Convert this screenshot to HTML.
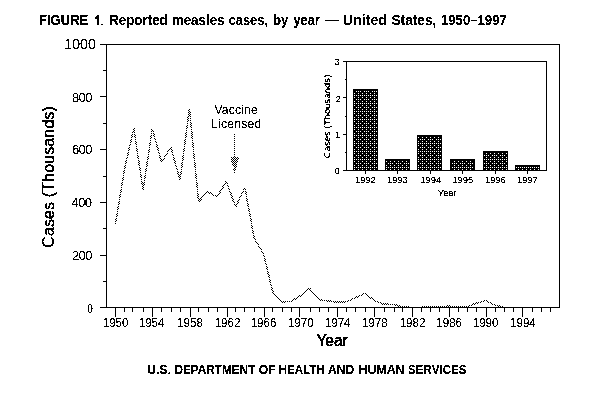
<!DOCTYPE html>
<html><head><meta charset="utf-8"><title>Figure 1</title>
<style>html,body{margin:0;padding:0;background:#fff}svg{display:block}text{font-family:"Liberation Sans",sans-serif;fill:#000;filter:url(#th)}text.sm{filter:url(#th2)}</style>
</head><body>
<svg width="605" height="415" viewBox="0 0 605 415">
<defs>
<pattern id="chk" x="0" y="0" width="2" height="2" patternUnits="userSpaceOnUse"><rect x="0" y="0" width="1" height="1" fill="#000"/><rect x="1" y="1" width="1" height="1" fill="#000"/></pattern>
<pattern id="bar" x="2" y="3" width="8" height="8" patternUnits="userSpaceOnUse"><rect width="8" height="8" fill="#000"/><rect x="2" y="0" width="1" height="1" fill="#fff"/><rect x="4" y="0" width="1" height="1" fill="#fff"/><rect x="6" y="0" width="1" height="1" fill="#fff"/><rect x="0" y="2" width="1" height="1" fill="#fff"/><rect x="4" y="2" width="1" height="1" fill="#fff"/><rect x="0" y="4" width="1" height="1" fill="#fff"/><rect x="2" y="4" width="1" height="1" fill="#fff"/><rect x="4" y="4" width="1" height="1" fill="#fff"/><rect x="6" y="4" width="1" height="1" fill="#fff"/><rect x="0" y="6" width="1" height="1" fill="#fff"/><rect x="4" y="6" width="1" height="1" fill="#fff"/></pattern>
<filter id="th" x="-5%" y="-5%" width="110%" height="110%" color-interpolation-filters="sRGB"><feComponentTransfer><feFuncA type="discrete" tableValues="0 0 1 1 1"/></feComponentTransfer></filter>
<filter id="th2" x="-5%" y="-5%" width="110%" height="110%" color-interpolation-filters="sRGB"><feComponentTransfer><feFuncA type="discrete" tableValues="0 0 0 0 0 0 0 1 1 1 1 1 1 1 1 1 1 1 1 1"/></feComponentTransfer></filter>
</defs>
<rect width="605" height="415" fill="#fff"/>
<text x="39.00" y="24.7" font-size="14" font-weight="bold" textLength="49.29" lengthAdjust="spacingAndGlyphs">FIGURE</text>
<text x="109.00" y="24.7" font-size="14" font-weight="bold" textLength="58.81" lengthAdjust="spacingAndGlyphs">Reported</text>
<text x="171.75" y="24.7" font-size="14" font-weight="bold" textLength="52.78" lengthAdjust="spacingAndGlyphs">measles</text>
<text x="228.75" y="24.7" font-size="14" font-weight="bold" textLength="39.05" lengthAdjust="spacingAndGlyphs">cases,</text>
<text x="273.00" y="24.7" font-size="14" font-weight="bold" textLength="15.31" lengthAdjust="spacingAndGlyphs">by</text>
<text x="293.50" y="24.7" font-size="14" font-weight="bold" textLength="26.25" lengthAdjust="spacingAndGlyphs">year</text>
<text x="325.00" y="24.7" font-size="14" font-weight="bold" textLength="13.76" lengthAdjust="spacingAndGlyphs">—</text>
<text x="342.75" y="24.7" font-size="14" font-weight="bold" textLength="44.33" lengthAdjust="spacingAndGlyphs">United</text>
<text x="391.50" y="24.7" font-size="14" font-weight="bold" textLength="44.79" lengthAdjust="spacingAndGlyphs">States,</text>
<text x="441.00" y="24.7" font-size="14" font-weight="bold" textLength="65.78" lengthAdjust="spacingAndGlyphs">1950–1997</text>
<path shape-rendering="crispEdges" fill="#000" d="M97 15h2v10h-2zM96 16h1v3h-1zM95 17h1v2h-1zM101 24h2v1h-2z"/>
<polyline points="115.3,224.3 124.6,168.8 133.8,128.6 143.1,190.1 152.3,128.8 161.6,162.2 170.8,147.2 180.1,180.1 189.4,108.6 198.6,201.4 207.9,192.0 217.1,196.7 226.4,181.4 235.6,206.9 244.9,187.7 254.2,238.2 263.4,253.5 272.7,291.6 281.9,302.2 291.2,301.2 300.4,295.8 309.7,288.5 319.0,299.7 328.2,300.9 337.5,302.2 346.7,301.7 356.0,297.4 365.2,293.2 374.5,300.9 383.8,304.2 393.0,304.3 402.3,306.9 411.5,307.3 420.8,307.3 430.0,307.0 439.3,307.0 448.6,306.1 457.8,306.8 467.1,306.8 476.3,303.2 485.6,300.7 494.8,305.3 504.1,307.1" fill="none" stroke="url(#chk)" stroke-width="1.5" stroke-linejoin="bevel" shape-rendering="crispEdges"/>
<g shape-rendering="crispEdges" fill="#000">
<rect x="106" y="44" width="454" height="1"/>
<rect x="106" y="44" width="1" height="264"/>
<rect x="559" y="44" width="1" height="264"/>
<rect x="106" y="307" width="454" height="1"/>
<rect x="100" y="44" width="6" height="1"/>
<rect x="103" y="70" width="3" height="1"/>
<rect x="100" y="96" width="6" height="1"/>
<rect x="103" y="123" width="3" height="1"/>
<rect x="100" y="149" width="6" height="1"/>
<rect x="103" y="176" width="3" height="1"/>
<rect x="100" y="202" width="6" height="1"/>
<rect x="103" y="228" width="3" height="1"/>
<rect x="100" y="255" width="6" height="1"/>
<rect x="103" y="281" width="3" height="1"/>
<rect x="100" y="307" width="6" height="1"/>
<rect x="115" y="308" width="1" height="9"/>
<rect x="124" y="308" width="1" height="4"/>
<rect x="132" y="308" width="1" height="4"/>
<rect x="143" y="308" width="1" height="4"/>
<rect x="152" y="308" width="1" height="9"/>
<rect x="161" y="308" width="1" height="4"/>
<rect x="171" y="308" width="1" height="4"/>
<rect x="180" y="308" width="1" height="4"/>
<rect x="190" y="308" width="1" height="9"/>
<rect x="198" y="308" width="1" height="4"/>
<rect x="208" y="308" width="1" height="4"/>
<rect x="217" y="308" width="1" height="4"/>
<rect x="227" y="308" width="1" height="9"/>
<rect x="235" y="308" width="1" height="4"/>
<rect x="244" y="308" width="1" height="4"/>
<rect x="254" y="308" width="1" height="4"/>
<rect x="264" y="308" width="1" height="9"/>
<rect x="272" y="308" width="1" height="4"/>
<rect x="282" y="308" width="1" height="4"/>
<rect x="291" y="308" width="1" height="4"/>
<rect x="299" y="308" width="1" height="9"/>
<rect x="310" y="308" width="1" height="4"/>
<rect x="319" y="308" width="1" height="4"/>
<rect x="328" y="308" width="1" height="4"/>
<rect x="337" y="308" width="1" height="9"/>
<rect x="346" y="308" width="1" height="4"/>
<rect x="355" y="308" width="1" height="4"/>
<rect x="365" y="308" width="1" height="4"/>
<rect x="374" y="308" width="1" height="9"/>
<rect x="384" y="308" width="1" height="4"/>
<rect x="394" y="308" width="1" height="4"/>
<rect x="402" y="308" width="1" height="4"/>
<rect x="412" y="308" width="1" height="9"/>
<rect x="421" y="308" width="1" height="4"/>
<rect x="430" y="308" width="1" height="4"/>
<rect x="439" y="308" width="1" height="4"/>
<rect x="449" y="308" width="1" height="9"/>
<rect x="458" y="308" width="1" height="4"/>
<rect x="467" y="308" width="1" height="4"/>
<rect x="476" y="308" width="1" height="4"/>
<rect x="486" y="308" width="1" height="9"/>
<rect x="495" y="308" width="1" height="4"/>
<rect x="504" y="308" width="1" height="4"/>
<rect x="513" y="308" width="1" height="4"/>
<rect x="522" y="308" width="1" height="9"/>
<rect x="532" y="308" width="1" height="4"/>
<rect x="541" y="308" width="1" height="4"/>
<rect x="550" y="308" width="1" height="4"/>
</g>
<text x="64.350" y="48.900" font-size="14" textLength="31.4" lengthAdjust="spacing">1000</text>
<text x="72.000" y="101.700" font-size="13" textLength="20.4" lengthAdjust="spacing">800</text>
<text x="72.000" y="153.800" font-size="13" textLength="20.4" lengthAdjust="spacing">600</text>
<text x="71.550" y="207.000" font-size="13" textLength="20.4" lengthAdjust="spacing">400</text>
<text x="72.000" y="259.800" font-size="13" textLength="20.4" lengthAdjust="spacing">200</text>
<text x="87.325" y="313.000" font-size="13" textLength="5.6" lengthAdjust="spacingAndGlyphs">0</text>
<text x="102.750" y="326.700" font-size="12" textLength="25.7" lengthAdjust="spacingAndGlyphs">1950</text>
<text x="138.725" y="326.700" font-size="12" textLength="25.7" lengthAdjust="spacingAndGlyphs">1954</text>
<text x="177.150" y="326.700" font-size="12" textLength="25.7" lengthAdjust="spacingAndGlyphs">1958</text>
<text x="214.675" y="326.700" font-size="12" textLength="25.7" lengthAdjust="spacingAndGlyphs">1962</text>
<text x="250.625" y="326.700" font-size="12" textLength="25.7" lengthAdjust="spacingAndGlyphs">1966</text>
<text x="287.900" y="326.700" font-size="12" textLength="25.7" lengthAdjust="spacingAndGlyphs">1970</text>
<text x="324.800" y="326.700" font-size="12" textLength="25.7" lengthAdjust="spacingAndGlyphs">1974</text>
<text x="361.925" y="326.700" font-size="12" textLength="25.7" lengthAdjust="spacingAndGlyphs">1978</text>
<text x="399.650" y="326.700" font-size="12" textLength="25.7" lengthAdjust="spacingAndGlyphs">1982</text>
<text x="436.350" y="326.700" font-size="12" textLength="25.7" lengthAdjust="spacingAndGlyphs">1986</text>
<text x="472.725" y="326.700" font-size="12" textLength="25.7" lengthAdjust="spacingAndGlyphs">1990</text>
<text x="510.100" y="326.700" font-size="12" textLength="25.7" lengthAdjust="spacingAndGlyphs">1994</text>
<text x="316.400" y="345.500" font-size="16" textLength="31.4" lengthAdjust="spacingAndGlyphs" stroke="#000" stroke-width="0.4">Year</text>
<text transform="translate(54,247.7) rotate(-90)" font-size="16" textLength="141.6" lengthAdjust="spacing" stroke="#000" stroke-width="0.2">Cases (Thousands)</text>
<text x="214.500" y="113.800" font-size="12" textLength="43.1" lengthAdjust="spacing">Vaccine</text>
<text x="210.925" y="127.800" font-size="12" textLength="50.3" lengthAdjust="spacing">Licensed</text>
<g shape-rendering="crispEdges">
<rect x="234" y="134" width="1" height="1" fill="#000"/>
<rect x="234" y="136" width="1" height="1" fill="#000"/>
<rect x="234" y="138" width="1" height="1" fill="#000"/>
<rect x="234" y="140" width="1" height="1" fill="#000"/>
<rect x="234" y="142" width="1" height="1" fill="#000"/>
<rect x="234" y="144" width="1" height="1" fill="#000"/>
<rect x="234" y="146" width="1" height="1" fill="#000"/>
<rect x="234" y="148" width="1" height="1" fill="#000"/>
<rect x="234" y="150" width="1" height="1" fill="#000"/>
<rect x="234" y="152" width="1" height="1" fill="#000"/>
<rect x="234" y="154" width="1" height="1" fill="#000"/>
<path fill="#000" d="M234 156h1v1h-1zM231 157h1v1h-1zM233 157h1v1h-1zM235 157h1v1h-1zM237 157h1v1h-1zM232 158h1v1h-1zM234 158h1v1h-1zM236 158h1v1h-1zM238 158h1v1h-1zM231 159h1v1h-1zM233 159h1v1h-1zM235 159h1v1h-1zM237 159h1v1h-1zM232 160h1v1h-1zM234 160h1v1h-1zM236 160h1v1h-1zM231 161h1v1h-1zM233 161h1v1h-1zM235 161h1v1h-1zM237 161h1v1h-1zM232 162h1v1h-1zM234 162h1v1h-1zM236 162h1v1h-1zM233 163h1v1h-1zM235 163h1v1h-1zM232 164h1v1h-1zM234 164h1v1h-1zM236 164h1v1h-1zM233 165h1v1h-1zM235 165h1v1h-1zM234 166h1v1h-1zM236 166h1v1h-1zM235 167h1v1h-1zM234 168h1v1h-1zM233 169h1v1h-1zM235 169h1v1h-1zM234 170h1v1h-1zM234 172h1v1h-1z"/>
</g>
<g shape-rendering="crispEdges" fill="#000">
<rect x="346" y="61" width="201" height="1"/>
<rect x="346" y="61" width="1" height="110"/>
<rect x="546" y="61" width="1" height="110"/>
<rect x="346" y="170" width="201" height="1"/>
<rect x="343" y="61" width="3" height="1"/>
<rect x="345" y="79" width="1" height="1"/>
<rect x="343" y="97" width="3" height="1"/>
<rect x="345" y="116" width="1" height="1"/>
<rect x="343" y="134" width="3" height="1"/>
<rect x="345" y="152" width="1" height="1"/>
<rect x="343" y="170" width="3" height="1"/>
<rect x="353" y="89" width="25" height="81" fill="url(#bar)"/>
<rect x="353" y="89" width="25" height="1"/>
<rect x="353" y="89" width="1" height="81"/>
<rect x="377" y="89" width="1" height="81"/>
<rect x="365" y="171" width="1" height="3"/>
<rect x="385" y="159" width="25" height="11" fill="url(#bar)"/>
<rect x="385" y="159" width="25" height="1"/>
<rect x="385" y="159" width="1" height="11"/>
<rect x="409" y="159" width="1" height="11"/>
<rect x="397" y="171" width="1" height="3"/>
<rect x="417" y="135" width="25" height="35" fill="url(#bar)"/>
<rect x="417" y="135" width="25" height="1"/>
<rect x="417" y="135" width="1" height="35"/>
<rect x="441" y="135" width="1" height="35"/>
<rect x="430" y="171" width="1" height="3"/>
<rect x="450" y="159" width="25" height="11" fill="url(#bar)"/>
<rect x="450" y="159" width="25" height="1"/>
<rect x="450" y="159" width="1" height="11"/>
<rect x="474" y="159" width="1" height="11"/>
<rect x="462" y="171" width="1" height="3"/>
<rect x="483" y="151" width="25" height="19" fill="url(#bar)"/>
<rect x="483" y="151" width="25" height="1"/>
<rect x="483" y="151" width="1" height="19"/>
<rect x="507" y="151" width="1" height="19"/>
<rect x="495" y="171" width="1" height="3"/>
<rect x="515" y="165" width="25" height="5" fill="url(#bar)"/>
<rect x="515" y="165" width="25" height="1"/>
<rect x="515" y="165" width="1" height="5"/>
<rect x="539" y="165" width="1" height="5"/>
<rect x="527" y="171" width="1" height="3"/>
</g>
<text x="365.425" y="182.900" class="sm" font-size="9.3" text-anchor="middle">1992</text>
<text x="397.425" y="182.900" class="sm" font-size="9.3" text-anchor="middle">1993</text>
<text x="430.800" y="182.900" class="sm" font-size="9.3" text-anchor="middle">1994</text>
<text x="462.800" y="182.900" class="sm" font-size="9.3" text-anchor="middle">1995</text>
<text x="495.425" y="182.900" class="sm" font-size="9.3" text-anchor="middle">1996</text>
<text x="527.425" y="182.900" class="sm" font-size="9.3" text-anchor="middle">1997</text>
<text x="334.400" y="64.900" class="sm" font-size="9.3">3</text>
<text x="335.625" y="101.600" class="sm" font-size="9.3">2</text>
<text x="334.900" y="137.900" class="sm" font-size="9.3">1</text>
<text x="334.500" y="173.900" class="sm" font-size="9.3">0</text>
<text x="447.250" y="196.000" class="sm" font-size="9.3" text-anchor="middle">Year</text>
<text transform="translate(330.3,158.4) rotate(-90)" class="sm" font-size="9.6" textLength="83.6" lengthAdjust="spacing">Cases (Thousands)</text>
<text x="147.25" y="373.7" font-size="12.3" font-weight="bold" textLength="23.84" lengthAdjust="spacingAndGlyphs">U.S.</text>
<text x="174.50" y="373.7" font-size="12.3" font-weight="bold" textLength="80.76" lengthAdjust="spacingAndGlyphs">DEPARTMENT</text>
<text x="258.75" y="373.7" font-size="12.3" font-weight="bold" textLength="16.80" lengthAdjust="spacingAndGlyphs">OF</text>
<text x="278.75" y="373.7" font-size="12.3" font-weight="bold" textLength="45.80" lengthAdjust="spacingAndGlyphs">HEALTH</text>
<text x="328.00" y="373.7" font-size="12.3" font-weight="bold" textLength="26.28" lengthAdjust="spacingAndGlyphs">AND</text>
<text x="358.50" y="373.7" font-size="12.3" font-weight="bold" textLength="46.05" lengthAdjust="spacingAndGlyphs">HUMAN</text>
<text x="408.00" y="373.7" font-size="12.3" font-weight="bold" textLength="58.51" lengthAdjust="spacingAndGlyphs">SERVICES</text>
</svg>
</body></html>
